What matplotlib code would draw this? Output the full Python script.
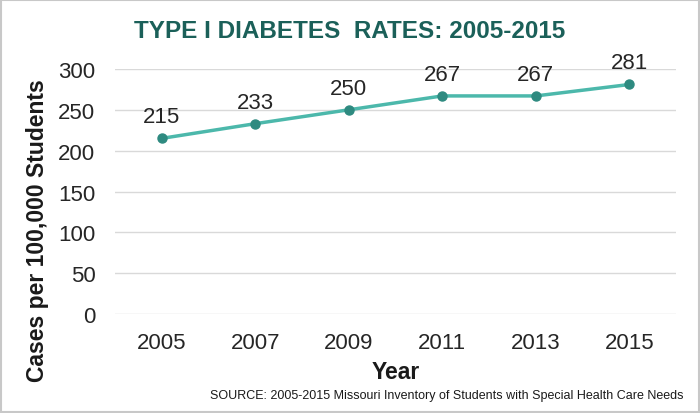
import numpy as np
import matplotlib.pyplot as plt
from matplotlib.patches import Rectangle

plt.rcParams['font.family'] = ['Liberation Sans', 'DejaVu Sans']

years = ['2005', '2007', '2009', '2011', '2013', '2015']
rates = [215, 233, 250, 267, 267, 281]
yticks = [0, 50, 100, 150, 200, 250, 300]

fig = plt.figure(figsize=(7, 4.14), dpi=100)
ax = fig.add_axes([0.164, 0.239, 0.802, 0.592])

x = np.arange(len(years))
ax.plot(x, rates, color='#4cb8ab', lw=2.5, zorder=3)
ax.plot(x, rates, 'o', color='#2e8a80', ms=6.5, zorder=4)
for xi, v in zip(x, rates):
    ax.annotate(str(v), (xi, v), xytext=(0, 8), textcoords='offset points',
                ha='center', va='bottom', fontsize=16, color='#262626')

ax.set_xlim(-0.5, len(years) - 0.5)
ax.set_ylim(0, 300)
ax.set_yticks(yticks)
ax.set_xticks(x)
ax.set_xticklabels(years)
ax.tick_params(axis='both', length=0, labelsize=16, colors='#262626')
ax.tick_params(axis='x', pad=13)
ax.tick_params(axis='y', pad=14)
ax.grid(axis='y', color='#d9d9d9', lw=1)
ax.set_axisbelow(True)
for s in ax.spines.values():
    s.set_visible(False)

ax.set_ylabel('Cases per 100,000 Students', fontsize=16.5, fontweight='bold',
              color='#1a1a1a', va='center')
ax.yaxis.set_label_coords(-0.137, 0.343)
ax.set_xlabel('Year', fontsize=16.5, fontweight='bold', color='#1a1a1a', labelpad=5)

fig.text(0.5, 0.925, 'TYPE I DIABETES  RATES: 2005-2015', ha='center', va='center',
         fontsize=17.5, fontweight='bold', color='#1b6059')
fig.text(0.976, 0.043, 'SOURCE: 2005-2015 Missouri Inventory of Students with Special Health Care Needs',
         ha='right', va='center', fontsize=9, color='#1a1a1a')

fig.patches.append(Rectangle((0.002, 0.003), 0.996, 0.994, transform=fig.transFigure,
                             fill=False, edgecolor='#c8c8c8', lw=1.5))

fig.savefig('out.png', dpi=100)
